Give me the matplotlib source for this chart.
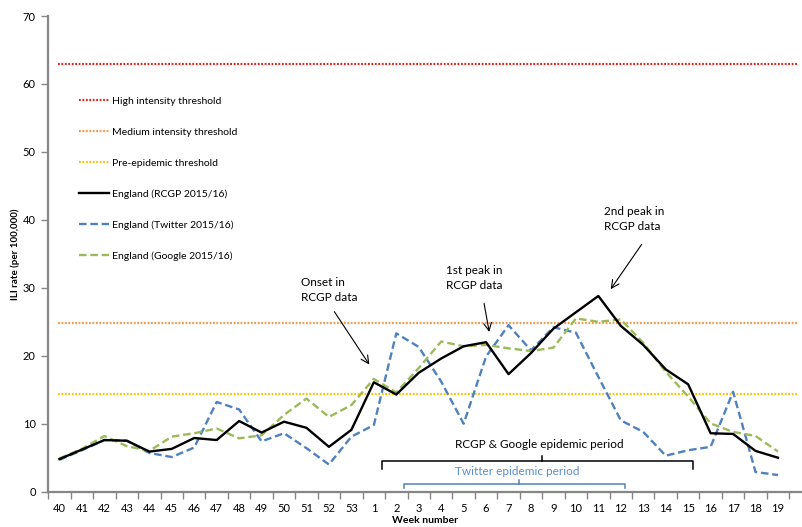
import matplotlib.pyplot as plt

plt.rcParams["font.family"] = ["Lato", "DejaVu Sans"]

weeks = [str(w) for w in range(40, 54)] + [str(w) for w in range(1, 20)]

rcgp = [4.8, 6.2, 7.6, 7.5, 5.9, 6.3, 7.9, 7.6, 10.4, 8.7, 10.3, 9.4, 6.6, 9.1,
        16.1, 14.3, 17.5, 19.6, 21.4, 22.0, 17.3, 20.4, 24.0, 26.4, 28.8,
        24.4, 21.6, 18.0, 15.8, 8.6, 8.5, 6.0, 5.0]
twitter = [4.7, 6.1, 7.6, 7.5, 5.7, 5.1, 6.5, 13.2, 12.1, 7.4, 8.6, 6.4, 4.0, 8.1,
           9.8, 23.3, 21.3, 16.2, 10.0, 19.9, 24.5, 20.8, 24.2, 23.4, 16.9,
           10.5, 8.8, 5.3, 6.1, 6.6, 14.7, 2.9, 2.45]
google = [4.9, 6.3, 8.2, 6.7, 6.0, 8.1, 8.6, 9.3, 7.85, 8.3, 11.3, 13.7, 11.0, 12.75,
          16.6, 14.6, 18.2, 22.1, 21.4, 21.6, 21.1, 20.7, 21.2, 25.5, 25.0,
          25.35, 21.9, 17.65, 14.0, 10.05, 8.8, 8.2, 5.9]

high_threshold = 63.0
medium_threshold = 24.8
pre_epidemic_threshold = 14.4

# epidemic periods as (first week, last week)
rcgp_google_period = ("1", "15")
twitter_period = ("2", "12")

grey = "#868686"
blue = "#4f81bd"

fig = plt.figure(figsize=(8.02, 5.27), dpi=100)
ax = fig.add_axes([0.0602, 0.067, 0.9398, 0.9026])

x = list(range(len(weeks)))
x0, x1 = -0.08, len(weeks) - 0.15
dots = (0, (0.8, 0.75))
ax.hlines(high_threshold, x0, x1, color="#e0201b", lw=1.6, linestyles=[dots],
          label="High intensity threshold")
ax.hlines(medium_threshold, x0, x1, color="#f79646", lw=1.6, linestyles=[dots],
          label="Medium intensity threshold")
ax.hlines(pre_epidemic_threshold, x0, x1, color="#ffc000", lw=1.6, linestyles=[dots],
          label="Pre-epidemic threshold")
ax.plot(x, rcgp, color="black", lw=1.7, label="England (RCGP 2015/16)", zorder=5)
ax.plot(x, twitter, color=blue, lw=1.7, ls=(0, (3.2, 1.6)),
        label="England (Twitter 2015/16)", zorder=4)
ax.plot(x, google, color="#9bbb59", lw=1.7, ls=(0, (3.2, 1.6)),
        label="England (Google 2015/16)", zorder=4)

ax.set_xlim(-0.5, 33.07)
ax.set_ylim(0, 70)
ax.set_yticks(range(0, 71, 10))
ax.set_xticks(x)
ax.set_xticklabels(weeks)
ax.set_xticks([i - 0.5 for i in range(len(weeks) + 1)], minor=True)
ax.tick_params(axis="x", which="major", length=0, pad=8, labelsize=8)
ax.tick_params(axis="x", which="minor", length=5, width=1, color=grey)
ax.tick_params(axis="y", length=5, width=1, color=grey, labelsize=8, pad=4)
for side in ["top", "right"]:
    ax.spines[side].set_visible(False)
for side in ["left", "bottom"]:
    ax.spines[side].set_color(grey)
    ax.spines[side].set_linewidth(1.6)

ax.set_ylabel("ILI rate (per 100,000)", fontsize=7, fontweight="bold", labelpad=2)
ax.set_xlabel("Week number", fontsize=7.5, fontweight="bold")
ax.xaxis.set_label_coords(0.5, -0.051)

ax.legend(loc="upper left", bbox_to_anchor=(0.028, 0.85), frameon=False,
          fontsize=7.5, labelspacing=2.07, handlelength=2.9, handletextpad=0.3)

arrow = dict(arrowstyle="->", color="black", lw=0.8, shrinkA=0, shrinkB=0,
             mutation_scale=14)
ax.annotate("Onset in\nRCGP data", xy=(13.8, 18.7), xytext=(10.76, 31.6),
            fontsize=8.5, va="top", ha="left", linespacing=1.45)
ax.annotate("", xy=(13.8, 18.7), xytext=(12.24, 26.5), arrowprops=arrow)
ax.annotate("1st peak in\nRCGP data", xy=(19.14, 23.5), xytext=(17.2, 33.4),
            fontsize=8.5, va="top", ha="left", linespacing=1.45)
ax.annotate("", xy=(19.14, 23.5), xytext=(18.91, 27.7), arrowprops=arrow)
ax.annotate("2nd peak in\nRCGP data", xy=(24.55, 29.8), xytext=(24.27, 42.0),
            fontsize=8.5, va="top", ha="left", linespacing=1.45)
ax.annotate("", xy=(24.55, 29.8), xytext=(25.93, 36.4), arrowprops=arrow)


def bracket(period, y, drop, rise, color, text, text_y, text_color):
    a = weeks.index(period[0], 14) + 0.35
    b = weeks.index(period[1], 14) + 0.2
    mid = (a + b) / 2 + 0.2
    ax.plot([a, a, b, b], [y - drop, y, y, y - drop], color=color, lw=1.1,
            solid_joinstyle="round")
    ax.plot([mid, mid], [y, y + rise], color=color, lw=1.1)
    ax.text(mid - 0.1, text_y, text, color=text_color, fontsize=8.5,
            ha="center", va="center")


bracket(rcgp_google_period, 4.5, 1.2, 0.75, "black",
        "RCGP & Google epidemic period", 6.9, "black")
bracket(twitter_period, 1.1, 0.6, 0.6, blue,
        "Twitter epidemic period", 2.95, "#5b8fd0")

fig.savefig("out.png", dpi=100)
